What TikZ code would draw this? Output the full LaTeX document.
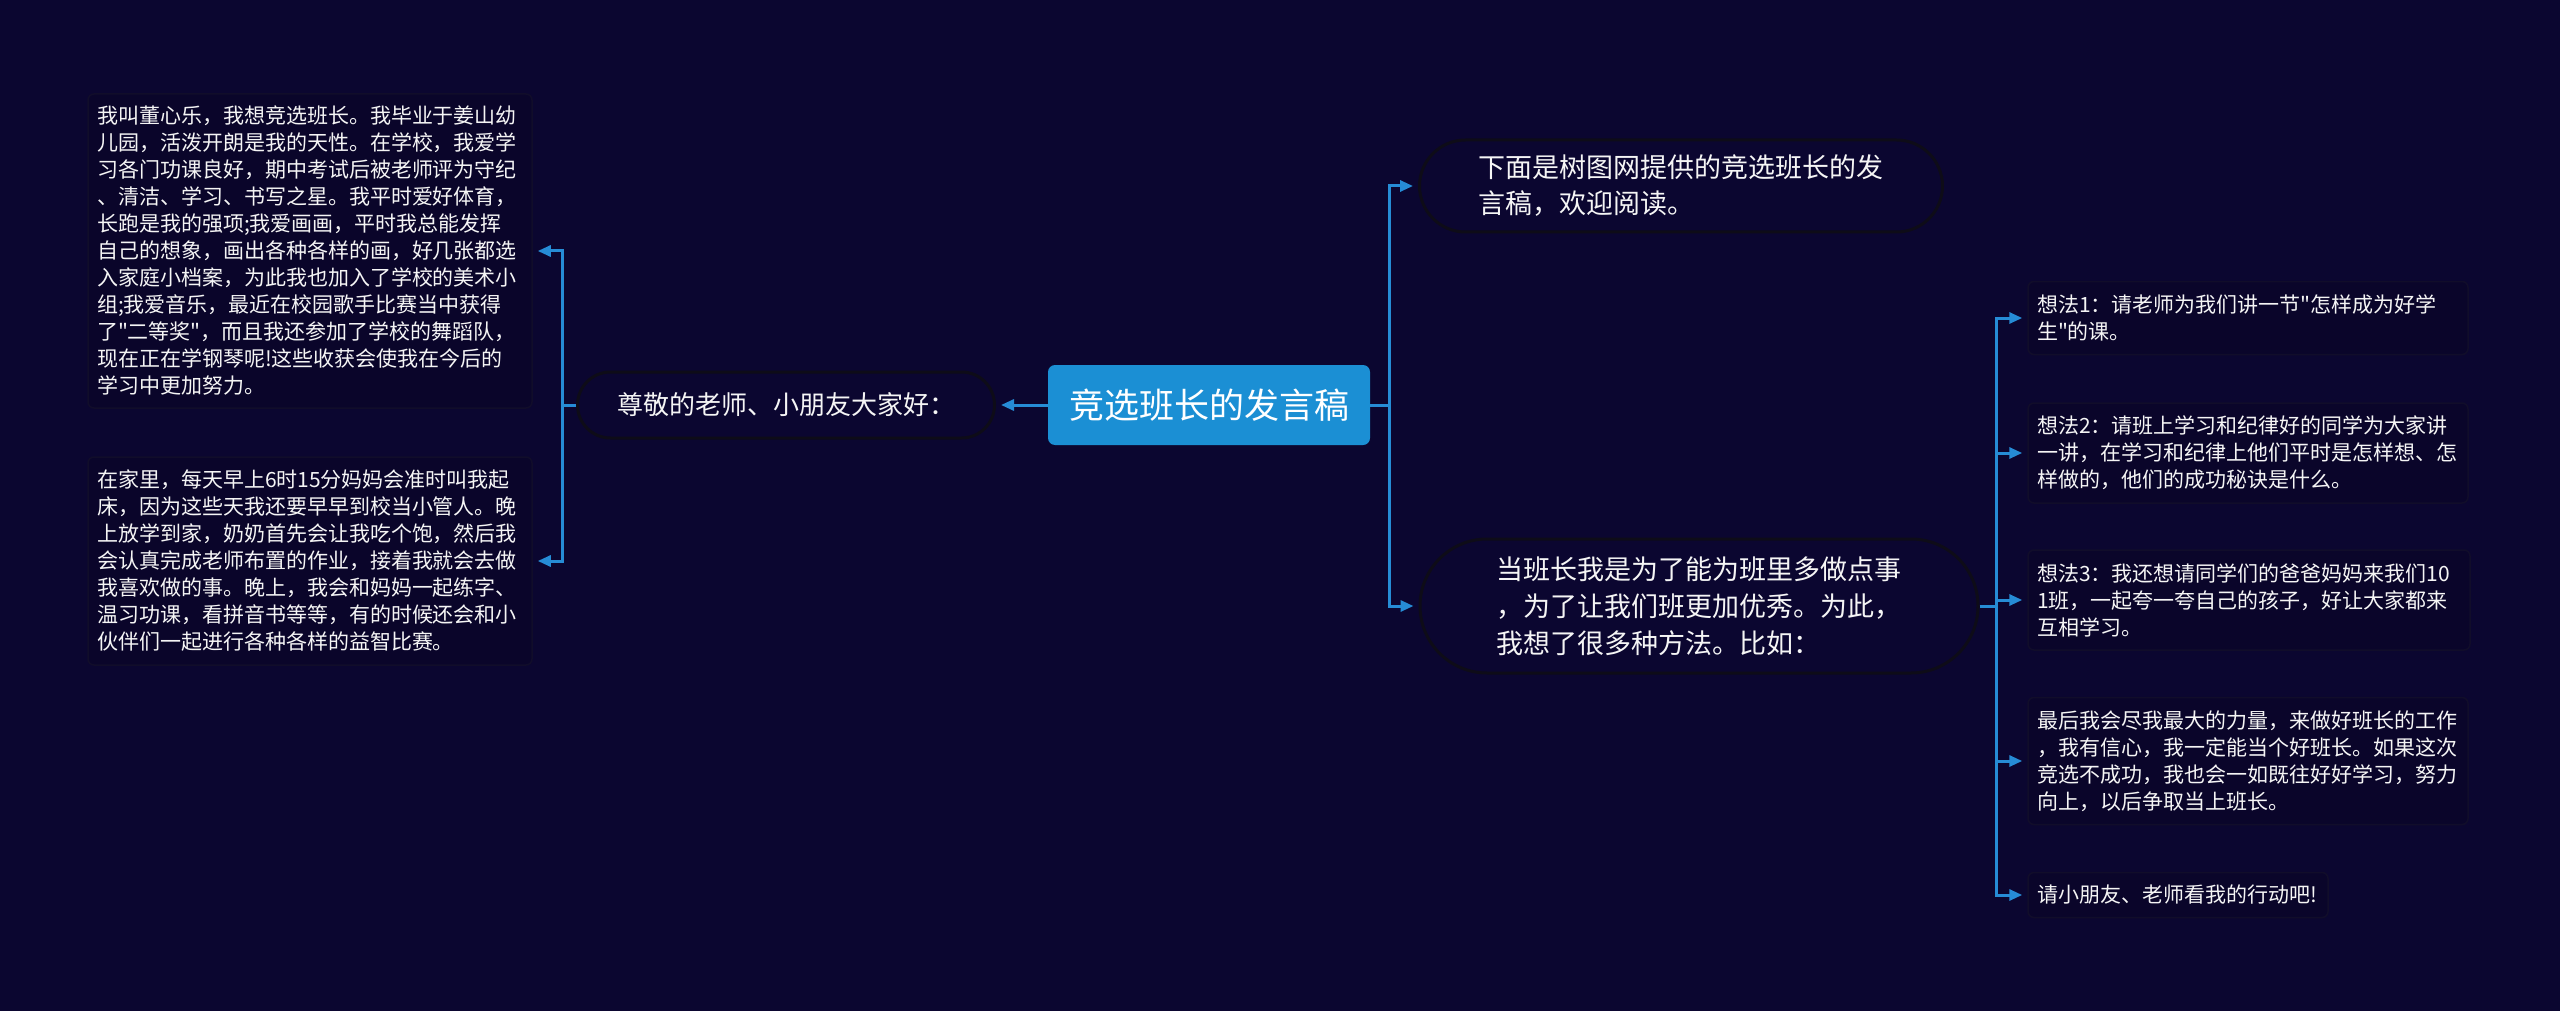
\documentclass[tikz,border=0pt]{standalone}
\usepackage{fontspec}
\setmainfont{Noto Sans CJK SC}
\usetikzlibrary{arrows.meta,shapes.misc}
\definecolor{bg}{RGB}{11,6,48}
\definecolor{rootc}{RGB}{27,143,212}
\definecolor{linec}{RGB}{38,140,214}
\definecolor{pillb}{RGB}{14,12,24}
\definecolor{leaff}{RGB}{10,5,42}
\definecolor{leafb}{RGB}{17,13,42}
\definecolor{txt}{RGB}{245,245,245}
\newcommand{\dq}{\XeTeXglyph\XeTeXcharglyph"22\relax}
\begin{document}
\begin{tikzpicture}[x=1pt,y=-1pt,
 rootbox/.style={fill=rootc, rounded corners=7pt, minimum width=322pt, minimum height=80pt, text=white, font=\fontsize{35}{40}\selectfont, inner sep=0pt},
 pill/.style={rounded rectangle, draw=pillb, line width=3pt, fill=bg, text=txt, align=left, inner sep=0pt},
 leaf/.style={draw=leafb, line width=1.5pt, fill=leaff, rounded corners=6pt, text=txt, align=left, font=\fontsize{21}{27}\selectfont, inner xsep=9pt, inner ysep=0pt},
 conn/.style={draw=linec, line width=3pt},
 arr/.style={conn, -{Triangle[length=13pt,width=11pt]}, shorten >=5pt}
]
\fill[bg] (0,0) rectangle (2560,1011);
\useasboundingbox (0,0) rectangle (2560,1011);

\node[rootbox] (root) at (1209,405) {竞选班长的发言稿};

\node[pill, minimum width=417pt, minimum height=66pt, font=\fontsize{26}{32}\selectfont] (lp) at (786,405) {尊敬的老师、小朋友大家好：};

\node[pill, minimum width=523pt, minimum height=92pt, font=\fontsize{27}{36}\selectfont] (tr) at (1681,186) {下面是树图网提供的竞选班长的发\\言稿，欢迎阅读。};

\node[pill, minimum width=558pt, minimum height=134pt, font=\fontsize{27}{37}\selectfont] (br) at (1699,606) {当班长我是为了能为班里多做点事\\，为了让我们班更加优秀。为此，\\我想了很多种方法。比如：};

\node[leaf, text width=426pt, minimum height=314pt] (tl) at (310,251) {我叫董心乐，我想竞选班长。我毕业于姜山幼\\儿园，活泼开朗是我的天性。在学校，我爱学\\习各门功课良好，期中考试后被老师评为守纪\\、清洁、学习、书写之星。我平时爱好体育，\\长跑是我的强项;我爱画画，平时我总能发挥\\自己的想象，画出各种各样的画，好几张都选\\入家庭小档案，为此我也加入了学校的美术小\\组;我爱音乐，最近在校园歌手比赛当中获得\\了\dq 二等奖\dq ，而且我还参加了学校的舞蹈队，\\现在正在学钢琴呢!这些收获会使我在今后的\\学习中更加努力。};

\node[leaf, text width=426pt, minimum height=208pt] (bl) at (310,561) {在家里，每天早上6时15分妈妈会准时叫我起\\床，因为这些天我还要早早到校当小管人。晚\\上放学到家，奶奶首先会让我吃个饱，然后我\\会认真完成老师布置的作业，接着我就会去做\\我喜欢做的事。晚上，我会和妈妈一起练字、\\温习功课，看拼音书等等，有的时候还会和小\\伙伴们一起进行各种各样的益智比赛。};

\node[leaf, text width=422pt, minimum height=73pt] (l1) at (2248,318) {想法1：请老师为我们讲一节\dq 怎样成为好学\\生\dq 的课。};
\node[leaf, text width=422pt, minimum height=100pt] (l2) at (2248,453) {想法2：请班上学习和纪律好的同学为大家讲\\一讲，在学习和纪律上他们平时是怎样想、怎\\样做的，他们的成功秘诀是什么。};
\node[leaf, text width=424pt, minimum height=100pt] (l3) at (2249,600) {想法3：我还想请同学们的爸爸妈妈来我们10\\1班，一起夸一夸自己的孩子，好让大家都来\\互相学习。};
\node[leaf, text width=422pt, minimum height=127pt] (l4) at (2248,761) {最后我会尽我最大的力量，来做好班长的工作\\，我有信心，我一定能当个好班长。如果这次\\竞选不成功，我也会一如既往好好学习，努力\\向上，以后争取当上班长。};
\node[leaf, text width=282pt, minimum height=45pt] (l5) at (2178,895) {请小朋友、老师看我的行动吧!};

\draw[arr] (root.west) -- (lp.east);
\draw[conn] (lp.west) -- ++(-14,0) coordinate (lj);
\draw[arr] (lj) |- (tl.east);
\draw[arr] (lj) |- (bl.east);

\draw[conn] (root.east) -- ++(19,0) coordinate (rj);
\draw[arr] (rj) |- (tr.west);
\draw[arr] (rj) |- (br.west);

\draw[conn] (br.east) -- ++(17,0) coordinate (bj);
\draw[arr] (bj) |- (l1.west);
\draw[arr] (bj) |- (l2.west);
\draw[arr] (bj) |- (l3.west);
\draw[arr] (bj) |- (l4.west);
\draw[arr] (bj) |- (l5.west);
\end{tikzpicture}
\end{document}
